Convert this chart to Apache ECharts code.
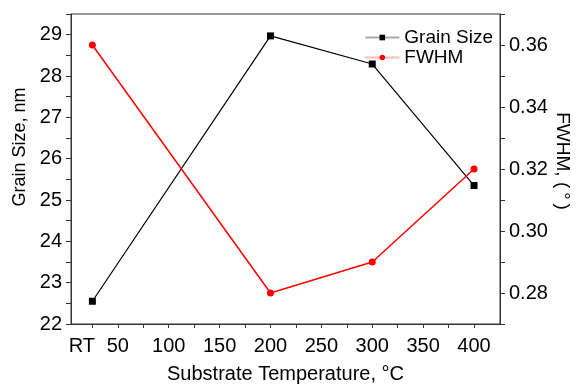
<!DOCTYPE html>
<html>
<head>
<meta charset="utf-8">
<script src="https://cdn.jsdelivr.net/npm/echarts@6/dist/echarts.min.js"></script>
<style>html,body{margin:0;padding:0;background:#fff;}#c{width:576px;height:385px;}</style>
</head>
<body>
<div id="c"></div>
<script>
const temperatures = [25, 200, 300, 400];
const xTickValues = [25, 50, 75, 100, 125, 150, 175, 200, 225, 250, 275, 300, 325, 350, 375, 400];
const xLabelValues = [25, 50, 100, 150, 200, 250, 300, 350, 400];
const grainSize = [22.55, 28.97, 28.29, 25.35];
const fwhm = [0.360, 0.280, 0.290, 0.320];

const FONT = 'Liberation Sans, Arial, sans-serif';
const chart = echarts.init(document.getElementById('c'), null, {renderer: 'canvas'});
const axisLineStyle = {color: '#333', width: 1};
chart.setOption({
  animation: false,
  backgroundColor: '#fff',
  grid: {left: 71, right: 76, top: 14, bottom: 61, containLabel: false, outerBoundsMode: 'none',
    show: true, borderColor: '#333', borderWidth: 1, backgroundColor: 'transparent'},
  legend: {
    orient: 'vertical', right: 78, top: 23, itemGap: 1, itemWidth: 34, itemHeight: 7,
    textStyle: {fontFamily: FONT, fontSize: 19, color: '#000'},
    data: [
      {name: 'Grain Size', lineStyle: {color: '#aaa'}},
      {name: 'FWHM', lineStyle: {color: '#fbb'}}
    ]
  },
  xAxis: {
    type: 'value', min: 4, max: 425.5,
    name: 'Substrate Temperature, °C', nameLocation: 'middle', nameGap: 40,
    nameTextStyle: {fontFamily: FONT, fontSize: 20, color: '#000'},
    axisLine: {lineStyle: axisLineStyle},
    axisTick: {customValues: xTickValues, length: 4, lineStyle: axisLineStyle},
    axisLabel: {customValues: xLabelValues, margin: 12, fontFamily: FONT, fontSize: 20, color: '#000',
      formatter: v => v === 25 ? '{rt|RT}' : String(v),
      rich: {rt: {fontFamily: FONT, fontSize: 20, color: '#000', padding: [0, 21, 0, 0]}}},
    splitLine: {show: false}
  },
  yAxis: [
    {
      type: 'value', min: 22, max: 29.5, interval: 0.5, position: 'left',
      axisLine: {show: true, lineStyle: axisLineStyle},
      axisTick: {show: true, length: 5, lineStyle: axisLineStyle},
      axisLabel: {margin: 9, fontFamily: FONT, fontSize: 20, color: '#000',
        formatter: v => Math.abs(v - Math.round(v)) < 1e-6 ? String(Math.round(v)) : ''},
      splitLine: {show: false}
    },
    {
      type: 'value', min: 0.27, max: 0.37, interval: 0.01, position: 'right',
      axisLine: {show: true, lineStyle: axisLineStyle},
      axisTick: {show: true, length: 5, lineStyle: axisLineStyle},
      axisLabel: {margin: 9, fontFamily: FONT, fontSize: 20, color: '#000',
        formatter: v => { const k = Math.round(v * 100); return k % 2 === 0 ? (k / 100).toFixed(2) : ''; }},
      splitLine: {show: false}
    }
  ],
  graphic: [
    {type: 'text', x: 20, y: 147, rotation: Math.PI / 2,
     style: {text: 'Grain Size, nm', font: '18px ' + FONT, fill: '#000', align: 'center', verticalAlign: 'middle', textAlign: 'center', textVerticalAlign: 'middle'}},
    {type: 'text', x: 562, y: 161, rotation: -Math.PI / 2,
     style: {text: 'FWHM, (\u2009°\u2009)', font: '19px ' + FONT, fill: '#000', align: 'center', verticalAlign: 'middle', textAlign: 'center', textVerticalAlign: 'middle'}}
  ],
  series: [
    {
      name: 'Grain Size', type: 'line', yAxisIndex: 0,
      data: temperatures.map((t, i) => [t, grainSize[i]]),
      symbol: 'rect', symbolSize: 7,
      lineStyle: {color: '#000', width: 1.2},
      itemStyle: {color: '#000'}
    },
    {
      name: 'FWHM', type: 'line', yAxisIndex: 1,
      data: temperatures.map((t, i) => [t, fwhm[i]]),
      symbol: 'circle', symbolSize: 7,
      lineStyle: {color: '#f00', width: 1.5},
      itemStyle: {color: '#f00'}
    }
  ]
});
</script>
</body>
</html>
